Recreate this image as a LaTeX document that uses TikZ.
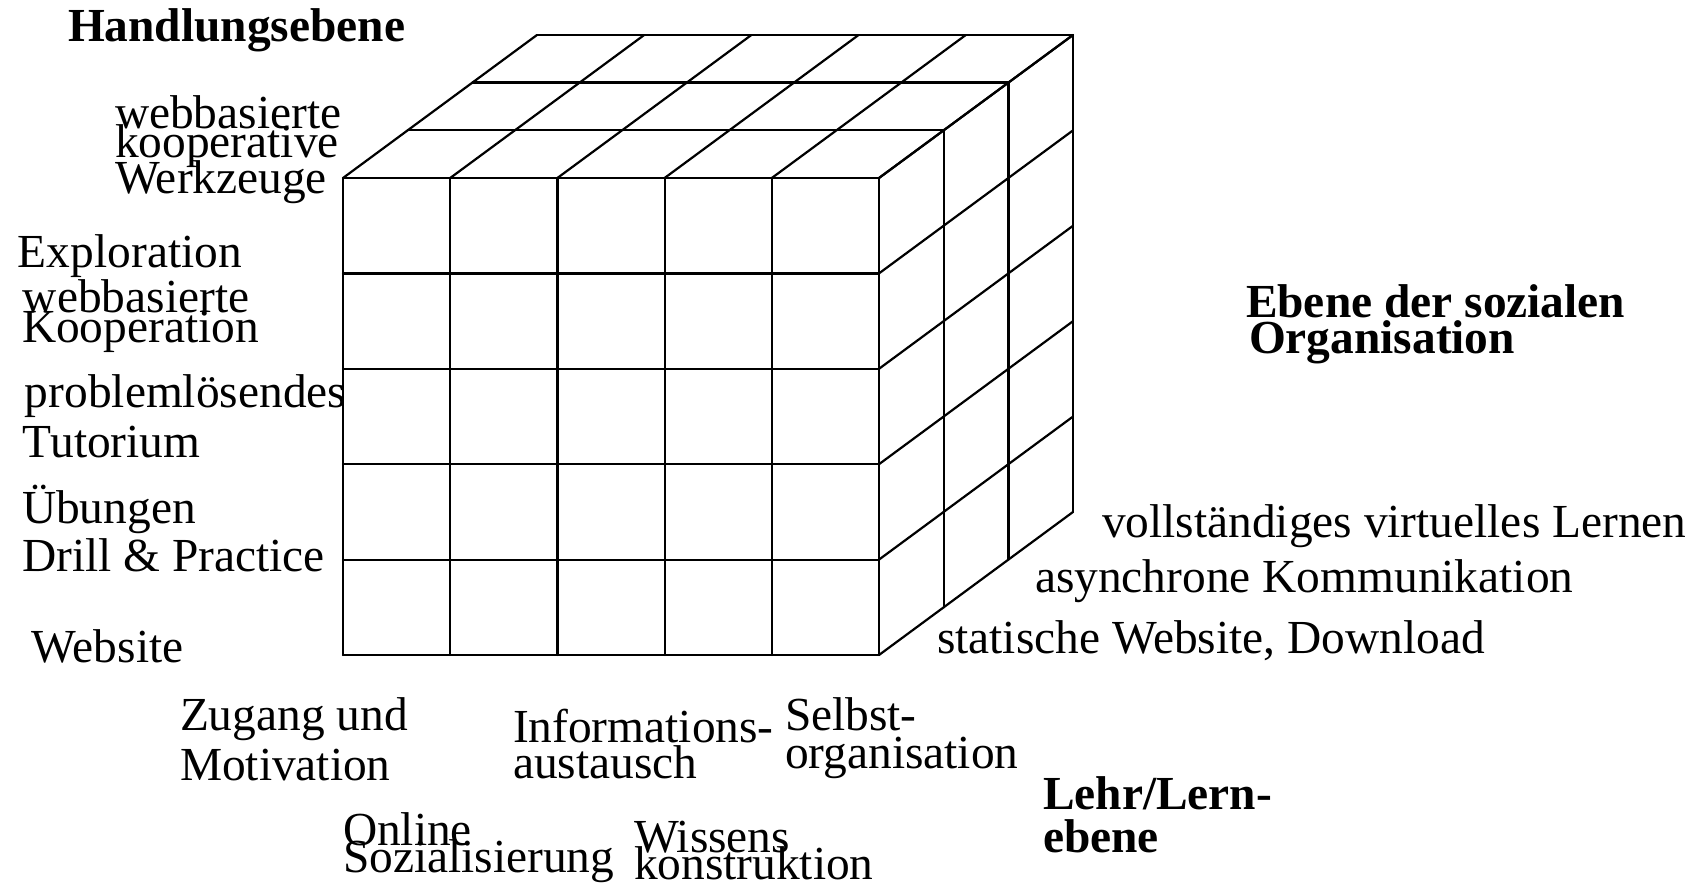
\documentclass[tikz,border=0pt]{standalone}
\usepackage{fontspec}
\setmainfont{Liberation Serif}
\newcommand\lblfont{\fontsize{23.7}{28}\selectfont}
\tikzset{
  cube/.style={line width=1.1pt, line cap=round, line join=miter, black},
  lbl/.style={anchor=base west, inner sep=0pt, outer sep=0pt, font=\lblfont},
  blbl/.style={lbl, font=\lblfont\bfseries}
}
\begin{document}
\begin{tikzpicture}[x=0.5pt,y=-0.5pt]
\useasboundingbox (0,0) rectangle (1697,883);
% geometry: front face 343..879 x 178..655, depth vector (64.7,-47.7)
% front face
\foreach \i in {0,...,5}{
  \draw[cube] (343,{178+95.4*\i}) -- (879,{178+95.4*\i});
  \draw[cube] ({343+107.2*\i},178) -- ({343+107.2*\i},655);
}
% top face
\foreach \k in {1,2,3}{
  \draw[cube] ({343+64.7*\k},{178-47.7*\k}) -- ({879+64.7*\k},{178-47.7*\k});
}
\foreach \j in {0,...,5}{
  \draw[cube] ({343+107.2*\j},178) -- ({343+107.2*\j+194.1},{178-143.1});
}
% right face
\foreach \k in {1,2,3}{
  \draw[cube] ({879+64.7*\k},{178-47.7*\k}) -- ({879+64.7*\k},{655-47.7*\k});
}
\foreach \i in {0,...,5}{
  \draw[cube] (879,{178+95.4*\i}) -- (1073.1,{178+95.4*\i-143.1});
}
% left labels
\node[blbl] (handl) at (68,42) {Handlungsebene};
\node[lbl] (wk1) at (115,128) {webbasierte};
\node[lbl] (wk2) at (115,157) {kooperative};
\node[lbl] (wk3) at (115,193) {Werkzeuge};
\node[lbl] (expl) at (18,267) {Exploration};
\node[lbl] (wko1) at (23,312) {webbasierte};
\node[lbl] (wko2) at (22,342) {Kooperation};
\node[lbl] (pt1) at (25,407) {problemlösendes};
\node[lbl] (pt2) at (23,457) {Tutorium};
\node[lbl] (ueb) at (22,523) {Übungen};
\node[lbl] (drill) at (22,571) {Drill \& Practice};
\node[lbl] (web) at (32,662) {Website};
% right labels
\node[blbl] (eso1) at (1246,317) {Ebene der sozialen};
\node[blbl] (eso2) at (1249,353) {Organisation};
\node[lbl] (voll) at (1102,537) {vollständiges virtuelles Lernen};
\node[lbl] (async) at (1035,592) {asynchrone Kommunikation};
\node[lbl] (stat) at (937,653) {statische Website, Download};
% bottom labels
\node[lbl] (zug1) at (180,730) {Zugang und};
\node[lbl] (zug2) at (180,780) {Motivation};
\node[lbl] (inf1) at (513,742) {Informations-};
\node[lbl] (inf2) at (513,778) {austausch};
\node[lbl] (sel1) at (785,730) {Selbst-};
\node[lbl] (sel2) at (785,768) {organisation};
\node[lbl] (onl1) at (343,845) {Online};
\node[lbl] (onl2) at (343,872) {Sozialisierung};
\node[lbl] (wis1) at (634,852) {Wissens};
\node[lbl] (wis2) at (634,879) {konstruktion};
\node[blbl] (lehr1) at (1043,809) {Lehr/Lern-};
\node[blbl] (lehr2) at (1043,852) {ebene};
\end{tikzpicture}
\end{document}
